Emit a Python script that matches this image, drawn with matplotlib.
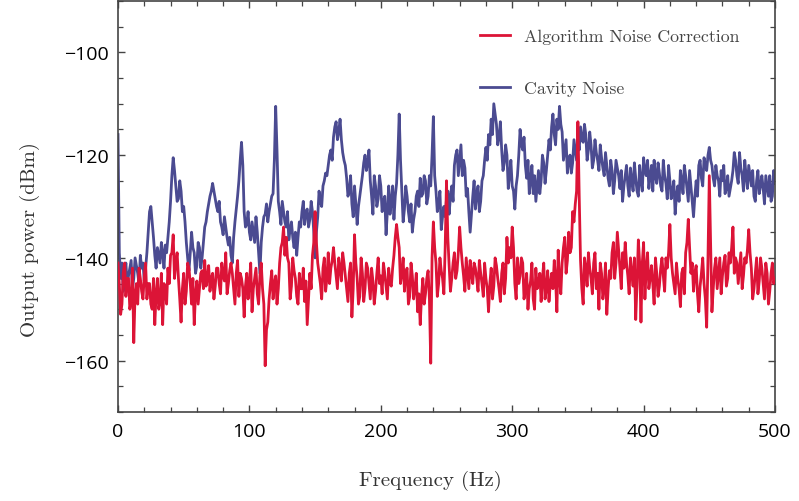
import numpy as np
import matplotlib
matplotlib.use("Agg")
import matplotlib.pyplot as plt
from matplotlib.ticker import MultipleLocator

# frecuencias en Hz: pares (0..500) e impares (1..499)
freq_par = np.arange(0, 501, 2)
freq_impar = np.arange(1, 500, 2)

# Cavity Noise (dBm) en frecuencias pares
cavity_par = [
    -116, -144, -146.5, -141, -143.5, -140.5, -144, -141.5, -145, -142,
    -144.5, -139, -131, -133, -139.5, -138, -141, -139, -137.5, -136,
    -129, -120.5, -126, -128.5, -127, -130, -137, -142.5, -135, -139,
    -141.5, -138, -140, -134, -131, -128, -125.5, -128.5, -131, -133,
    -135.5, -134, -137.5, -139.5, -136, -130.5, -125, -117.5, -131, -133.5,
    -135, -133, -137, -135, -143, -134, -131.5, -133, -129.5, -127.5,
    -110.5, -129, -133.5, -131, -134, -136.5, -133, -138, -139.5, -133,
    -131, -133.5, -130.5, -132.5, -131, -140, -132, -129, -126, -123.5,
    -122, -119, -116.5, -113.5, -115.5, -117, -121, -124.5, -127, -129.5,
    -126, -133.5, -128, -124, -120, -121.5, -125, -131.5, -126, -128.5,
    -126, -129, -135.5, -126, -129, -132.5, -125.5, -112, -127, -130.5,
    -128, -133, -135, -131, -127, -124.5, -127.5, -125, -128, -126,
    -112.5, -127, -129.5, -134.5, -130, -128.5, -131.5, -126, -122, -119,
    -121, -124, -122.5, -126.5, -135, -128, -130.5, -126, -129, -124,
    -118.5, -116, -113, -110, -114, -116.5, -119, -121.5, -120, -124,
    -126, -130.5, -124, -115, -119, -122, -121, -125, -127.5, -129,
    -123, -125, -121.5, -123, -117, -114.5, -116, -113, -110.5, -115.5,
    -119, -123.5, -120, -121.5, -119, -117, -114.5, -117.5, -116, -119,
    -118, -121, -119.5, -123, -120.5, -124, -122, -126, -123, -125,
    -122.5, -126.5, -129, -124, -126, -122.5, -127, -124.5, -128, -125,
    -120.5, -124, -126.5, -122, -121, -125.5, -123.5, -127, -124, -128.5,
    -125, -127, -131.5, -126, -123, -127.5, -124, -129, -126, -132,
    -125, -122, -124.5, -120.5, -123, -118.5, -122, -126, -124, -128,
    -125, -127.5, -124, -126.5, -123, -121, -125.5, -122.5, -127, -124,
    -122, -126, -128, -125, -127.5, -124, -129.5, -126, -124, -128,
    -125.5,
]

# Cavity Noise (dBm) en frecuencias impares
cavity_impar = [
    -139, -141, -143, -145, -142, -146, -140, -143, -139.5, -141,
    -142, -135, -130, -136, -142, -139.5, -137, -142, -139, -133,
    -124, -123, -129, -125, -131, -133, -140, -139, -138, -143,
    -137, -142, -137, -133, -129.5, -127, -127, -130, -129, -134,
    -132, -136, -136, -141, -133, -128, -121, -122, -134, -131,
    -136.5, -135, -132, -139, -137, -132, -129.5, -131, -128, -121,
    -119, -131, -129, -133, -131, -134.5, -136, -135, -136, -134,
    -129, -131, -134, -129, -135, -135, -127, -130, -125, -124,
    -120, -121, -114.5, -117, -113, -119.5, -122, -128, -124, -132,
    -129.5, -130, -126, -121.5, -123, -119, -128, -124, -130, -124,
    -131, -128, -131, -131.5, -126, -128, -120, -121, -133, -126,
    -131, -129.5, -132.5, -128, -130, -128, -124, -129.5, -124, -120,
    -124, -131, -127, -132, -132, -127, -128, -129, -120, -124,
    -118, -121, -128, -131, -131.5, -125, -127.5, -131, -125, -121,
    -121, -118, -116, -112, -118, -113.5, -123, -118, -126.5, -121,
    -127, -126, -120, -118, -116.5, -124.5, -127.5, -122, -124, -126,
    -127.5, -120, -125.5, -120, -119, -112, -118, -115, -114, -121,
    -117, -121, -123.5, -117, -121, -119, -117, -114, -121, -115.5,
    -122.5, -117, -121, -118, -122.5, -119.5, -124.5, -121, -127.5, -121,
    -124, -123, -126, -122, -128, -125, -121.5, -127, -122, -127,
    -123, -121, -124, -127, -124, -121.5, -126, -121, -125.5, -122,
    -128.5, -125, -128, -129, -125, -122, -126.5, -123, -129, -128,
    -128, -121, -126, -122, -120, -121, -124.5, -122, -125, -123,
    -122, -126.5, -128, -125, -119.5, -124, -119.5, -124, -121, -126.5,
    -124, -123, -129, -123, -126, -126.5, -124, -128, -129, -123,
]

# Algorithm Noise Correction (dBm) en frecuencias pares
corr_par = [
    -141, -151, -143, -147.5, -144, -148.5, -156.5, -145, -142, -146.5,
    -143.5, -148, -145, -150, -153, -144, -148.5, -153, -146, -142,
    -139.5, -135.5, -141, -144, -152.5, -143, -146.5, -142, -149, -153,
    -144.5, -146, -142.5, -140.5, -144, -146.5, -143, -145.5, -142, -147,
    -143.5, -139, -145, -141, -146, -143, -147.5, -144, -151.5, -143,
    -145, -150.5, -144, -147, -143.5, -146, -161, -152.5, -145, -148,
    -143.5, -146, -138, -134, -136, -141, -145.5, -142.5, -147.5, -143,
    -146, -148.5, -153, -143, -139.5, -131, -141, -145, -142, -146.5,
    -139, -142, -138, -143.5, -140, -144.5, -141, -146, -143, -151.5,
    -135.5, -144, -147.5, -143, -146, -142, -148, -144.5, -146.5, -140,
    -143.5, -141, -145.5, -142, -145.5, -139.5, -133.5, -138, -143, -146.5,
    -142, -147.5, -143.5, -146, -150.5, -153, -144, -147, -142.5, -160.5,
    -133, -141, -145, -142.5, -147, -125, -141.5, -144, -139, -142.5,
    -134, -141, -146.5, -143, -140.5, -145, -142, -146.5, -143, -147.5,
    -144, -150.5, -142, -145.5, -141.5, -146, -143, -147, -136, -138,
    -134, -145, -140, -143.5, -141, -146, -150, -144.5, -148, -142,
    -145, -148.5, -141, -146, -148.5, -143, -140.5, -150.5, -144, -141,
    -136, -140.5, -139, -131, -129.5, -113.5, -140.5, -149, -142, -139,
    -144, -141, -146, -150, -143, -146, -151, -142.5, -139, -144,
    -135, -142, -139, -137, -143.5, -140, -145.5, -152, -136.5, -152.5,
    -137, -142, -146, -141.5, -149, -143, -145.5, -140, -146.5, -142,
    -133.5, -143, -147, -144, -149.5, -142, -139, -132.5, -143, -146.5,
    -141.5, -150.5, -143, -145, -153.5, -124, -150.5, -142, -146, -140,
    -143.5, -139.5, -144, -141, -134, -140, -145, -139, -143.5, -141,
    -134.5, -142, -146, -140, -144.5, -142, -148, -143, -146.5, -141,
    -144,
]

# Algorithm Noise Correction (dBm) en frecuencias impares
corr_impar = [
    -145, -149, -141, -144, -150, -142, -147, -149, -144, -148,
    -141, -145, -149, -144, -147, -150, -143, -145, -149, -145,
    -139, -144, -139, -148, -146, -149, -141, -145, -144, -147,
    -149, -143, -146, -145.5, -141.5, -144, -148, -142, -145, -141,
    -144.5, -147, -142.5, -143, -149, -140.5, -143, -146, -145.5, -148,
    -141, -146, -142, -149, -141, -149, -154, -148, -142.5, -145,
    -149, -141, -137, -139.5, -140, -148, -140, -144, -149, -146,
    -142, -144.5, -148, -146, -137, -137, -143, -148, -140, -144,
    -145, -140.5, -141, -146, -142, -139, -143.5, -148.5, -141, -146,
    -141, -149, -140, -148.5, -141, -145, -142, -149, -143, -145,
    -147, -143, -148, -145, -142, -136, -136, -145, -140, -143,
    -149, -141, -148, -143, -147, -147.5, -149, -144, -148, -140,
    -138, -147.5, -140, -144, -138, -136, -146.5, -141, -144, -139,
    -138, -143.5, -140, -146, -143, -141, -144, -140.5, -145, -141,
    -146, -145, -148, -140, -144, -148.5, -141, -144, -141, -140,
    -138, -148, -145, -140, -148, -143, -146, -141, -150, -146,
    -143, -144, -148, -142.5, -145, -146, -144, -138.5, -147, -138,
    -143, -135, -138, -133, -127, -128, -146, -140, -145.5, -142,
    -147, -139, -143, -141, -148, -141, -146, -144, -137, -141,
    -138.5, -146, -142, -141, -147, -143, -140, -145, -141, -141,
    -148, -139, -144, -145, -140, -147.5, -142, -143.5, -140, -139,
    -140, -145, -141, -146, -143, -147, -137, -138, -141, -143,
    -147, -145.5, -140, -148, -140, -137, -146, -140, -143, -147,
    -141, -145.5, -139, -138, -143, -141, -142, -146, -140, -138.5,
    -139, -148, -143, -147, -140, -145, -141, -149, -143, -145,
]

# se juntan pares e impares en una sola serie
freq = np.arange(0, 501)
cavity = np.empty(501)
cavity[freq_par] = cavity_par
cavity[freq_impar] = cavity_impar
corregido = np.empty(501)
corregido[freq_par] = corr_par
corregido[freq_impar] = corr_impar

rojo = "#DC1437"
azul = "#4B4B91"

plt.rcParams['font.family'] = ['Open Sans', 'DejaVu Sans']

fig = plt.figure(figsize=(7.99, 5.02), dpi=100)
ax = fig.add_axes([118/799, 1-413/502, (775-118)/799, 411/502])

ax.plot(freq, cavity, color=azul, lw=2.0, label="Cavity Noise", zorder=2)
ax.plot(freq, corregido, color=rojo, lw=2.0, label="Algorithm Noise Correction", zorder=3)

ax.set_xlim(0, 500)
ax.set_ylim(-170, -90)
ax.xaxis.set_major_locator(MultipleLocator(100))
ax.xaxis.set_minor_locator(MultipleLocator(20))
ax.yaxis.set_major_locator(MultipleLocator(20))
ax.yaxis.set_minor_locator(MultipleLocator(5))
ax.tick_params(which='both', direction='in', top=True, right=True,
               color='#444444', labelsize=14)
ax.tick_params(which='major', length=5, width=1)
ax.tick_params(which='minor', length=3.5, width=0.9)
ax.tick_params(axis='y', pad=7)
ax.tick_params(axis='x', pad=7)
for s in ax.spines.values():
    s.set_color('#444444')
    s.set_linewidth(1.2)

ax.set_xlabel("Frequency (Hz)", family='cmr10', fontsize=15, color='#333333')
ax.set_ylabel("Output power (dBm)", family='cmr10', fontsize=15, color='#333333')
ax.xaxis.set_label_coords(0.476, -0.142)
ax.yaxis.set_label_coords(-0.119, 0.421)

h, l = ax.get_legend_handles_labels()
ax.legend(h[::-1], l[::-1], loc='upper left', bbox_to_anchor=(480/799, 1-30/502),
          bbox_transform=fig.transFigure, frameon=False, borderpad=0, borderaxespad=0,
          handlelength=1.7, handletextpad=0.8, labelspacing=2.05,
          prop={'family': 'cmr10', 'size': 12.8}, labelcolor='#444444')

fig.savefig("out.png", dpi=100)
